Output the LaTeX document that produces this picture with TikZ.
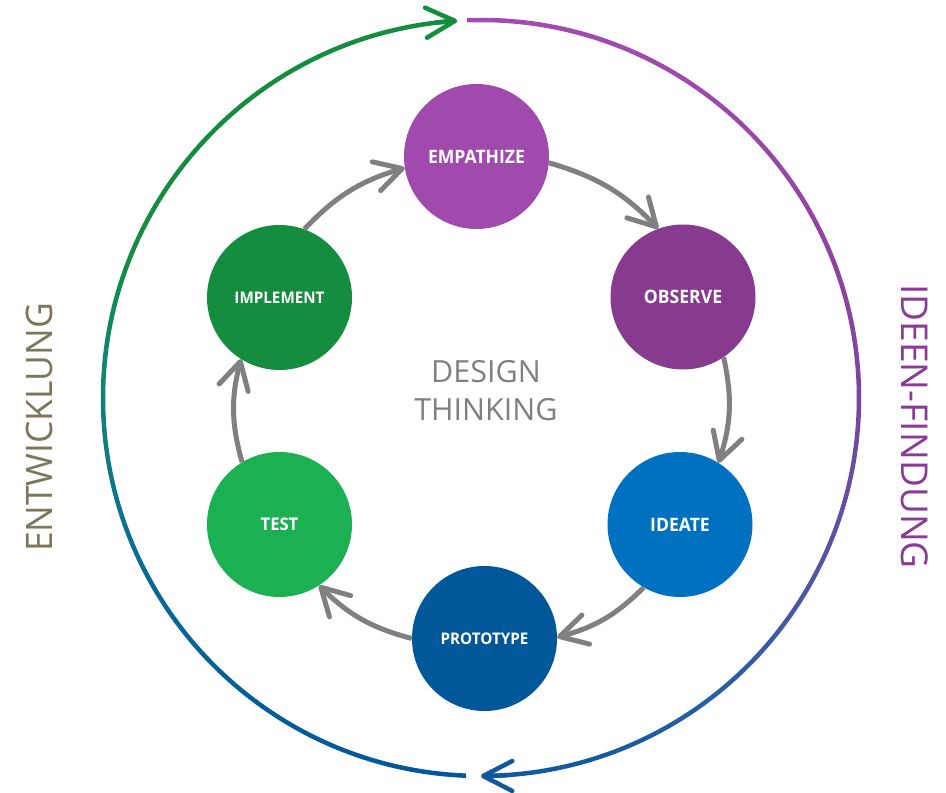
\documentclass[tikz,border=0pt]{standalone}
\usepackage{fontspec}
\setmainfont{Open Sans}
\newfontfamily\lblfont[FakeStretch=0.95]{Open Sans}
\newfontfamily\sidefont[FakeStretch=0.97]{Open Sans}
\newfontfamily\sidefontr[FakeStretch=1.0]{Open Sans}
\usetikzlibrary{arrows.meta,calc}
\definecolor{cEmp}{RGB}{161,74,174}
\definecolor{cObs}{RGB}{134,59,143}
\definecolor{cIde}{RGB}{0,112,192}
\definecolor{cPro}{RGB}{0,87,154}
\definecolor{cTes}{RGB}{27,176,82}
\definecolor{cImp}{RGB}{20,142,62}
\definecolor{cGray}{RGB}{128,128,128}
\definecolor{cSideL}{RGB}{124,119,88}
\definecolor{cSideR}{RGB}{139,58,152}
\definecolor{gLa}{RGB}{0,87,154}
\definecolor{gLb}{RGB}{6,106,148}
\definecolor{gLc}{RGB}{16,130,128}
\definecolor{gLd}{RGB}{20,142,62}
\definecolor{gRa}{RGB}{16,88,158}
\definecolor{gRb}{RGB}{40,94,164}
\definecolor{gRc}{RGB}{85,85,162}
\definecolor{gRd}{RGB}{122,70,160}
\definecolor{gRe}{RGB}{142,66,160}
\definecolor{gRf}{RGB}{163,76,178}
\pgfdeclareverticalshading{leftgrad}{100bp}{color(0bp)=(gLa); color(25bp)=(gLa); color(38bp)=(gLb); color(50bp)=(gLc); color(60bp)=(gLd); color(75bp)=(gLd); color(100bp)=(gLd)}
\pgfdeclareverticalshading{rightgrad}{100bp}{color(0bp)=(gRa); color(25bp)=(gRa); color(30bp)=(gRb); color(39bp)=(gRc); color(50bp)=(gRd); color(57bp)=(gRe); color(75bp)=(gRf); color(100bp)=(gRf)}
\begin{document}
\begin{tikzpicture}[x=1pt,y=1pt,
  stage/.style={circle, minimum size=145pt, inner sep=0pt, text=white},
  flow/.style={line width=5pt, draw=cGray, -{Straight Barb[length=27pt,width=30pt,round]}},
  outerhead/.style={line width=4.5pt, -{Straight Barb[length=29pt,width=30pt,round]}}
]
\fill[white] (0,0) rectangle (946,793);
\useasboundingbox (0,0) rectangle (946,793);
\coordinate (C) at (481,395);

% outer gradient arcs
\shade[shading=leftgrad] ($(C)+(93.9:380.25)$) arc[start angle=93.9, end angle=267.7, radius=380.25]
  -- ($(C)+(267.7:375.75)$) arc[start angle=267.7, end angle=93.9, radius=375.75] -- cycle;
\shade[shading=rightgrad] ($(C)+(92.1:380.25)$) arc[start angle=92.1, end angle=-89.7, radius=380.25]
  -- ($(C)+(-89.7:375.75)$) arc[start angle=-89.7, end angle=92.1, radius=375.75] -- cycle;
\draw[outerhead, draw=gLd] ($(C)+(97:378)$) arc[start angle=97, end angle=93.6, radius=378];
\draw[outerhead, draw=gRa] ($(C)+(-86:378)$) arc[start angle=-86, end angle=-90, radius=378];

% stages
\node[stage, fill=cEmp, font=\lblfont\bfseries\fontsize{18.5}{20}\selectfont] (emp) at (476.5,636.5) {EMPATHIZE};
\node[stage, fill=cObs, font=\lblfont\bfseries\fontsize{18.5}{20}\selectfont] (obs) at (683,496) {OBSERVE};
\node[stage, fill=cIde, font=\lblfont\bfseries\fontsize{18.5}{20}\selectfont] (ide) at (680,268.5) {IDEATE};
\node[stage, fill=cPro, font=\lblfont\bfseries\fontsize{16}{18}\selectfont] (pro) at (484.5,154.5) {PROTOTYPE};
\node[stage, fill=cTes, font=\lblfont\bfseries\fontsize{17.5}{19}\selectfont] (tes) at (279.5,268.5) {TEST};
\node[stage, fill=cImp, font=\lblfont\bfseries\fontsize{16}{18}\selectfont] (imp) at (279.5,495.5) {IMPLEMENT};

% flow arrows
\draw[flow] (emp.-5) to[bend left=15] (obs.110.6);
\draw[flow] (obs.-56) to[bend left=15] (ide.58);
\draw[flow] (ide.240) to[bend left=15] (pro.1);
\draw[flow] (pro.180) to[bend left=15] (tes.-57.5);
\draw[flow] (tes.121) to[bend left=15] (imp.-122);
\draw[flow] (imp.70) to[bend left=15] (emp.189);

% texts
\node[text=cGray, align=center, font=\fontsize{30.5}{38}\selectfont] (dt) at (486,402) {DESIGN\\THINKING};
\node[rotate=90, text=cSideL, font=\sidefont\fontsize{36.5}{40}\selectfont] (ent) at (39,365.5) {ENTWICKLUNG};
\node[rotate=-90, text=cSideR, font=\sidefontr\fontsize{37}{40}\selectfont] (idf) at (915,366.3) {IDEEN-FINDUNG};
\end{tikzpicture}
\end{document}
